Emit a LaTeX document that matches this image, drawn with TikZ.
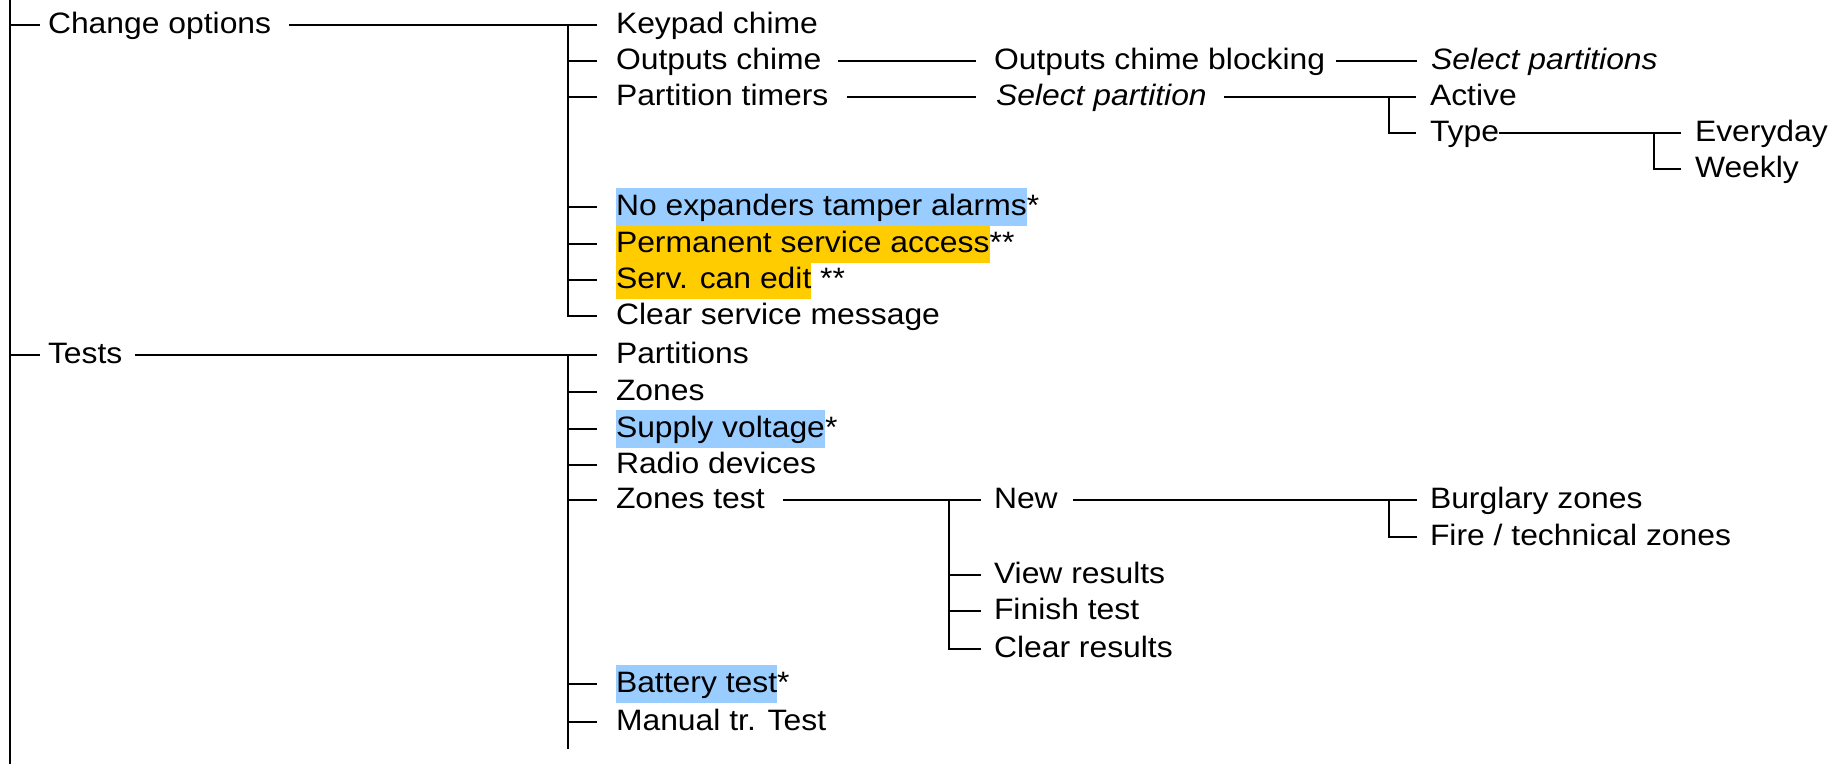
\documentclass[tikz,border=0pt]{standalone}
\usepackage{fontspec}
\setmainfont{Liberation Sans}[FakeStretch=1.08]
\definecolor{hlblue}{HTML}{99CCFF}
\definecolor{hlgold}{HTML}{FFCC00}
\setlength{\fboxsep}{0pt}
\newcommand{\hlstrut}{\rule[-9.7pt]{0pt}{37.1pt}}
\newcommand{\hlb}[1]{\colorbox{hlblue}{\hlstrut#1}}
\newcommand{\hlg}[1]{\colorbox{hlgold}{\hlstrut#1}}
\begin{document}
\begin{tikzpicture}[x=1pt,y=-1pt,
  item/.style={anchor=west, inner sep=0pt, outer sep=0pt, text height=27.4pt, text depth=9.7pt,
    font=\fontsize{29.5pt}{36pt}\selectfont},
  link/.style={line width=1.3pt, line cap=butt}]
\useasboundingbox (0,0) rectangle (1838,764);
% nodes
\node[item] (co) at (48,25) {Change options};
\node[item] (te) at (48,355) {Tests};
\node[item] (kc) at (616,25) {Keypad chime};
\node[item] (oc) at (616,61) {Outputs chime};
\node[item] (pt) at (616,97) {Partition timers};
\node[item] (ne) at (616,207) {\hlb{No expanders tamper alarms}*};
\node[item] (ps) at (616,244) {\hlg{Permanent service access}**};
\node[item] (se) at (616,280) {\hlg{Serv. can edit} **};
\node[item] (cs) at (616,316) {Clear service message};
\node[item] (pa) at (616,355) {Partitions};
\node[item] (zo) at (616,392) {Zones};
\node[item] (sv) at (616,429) {\hlb{Supply voltage}*};
\node[item] (rd) at (616,465) {Radio devices};
\node[item] (zt) at (616,500) {Zones test};
\node[item] (bt) at (616,684) {\hlb{Battery test}*};
\node[item] (mt) at (616,722) {Manual tr. Test};
\node[item] (ocb) at (994,61) {Outputs chime blocking};
\node[item] (sps) at (1431,61) {\itshape Select partitions};
\node[item] (sp) at (996,97) {\itshape Select partition};
\node[item] (ac) at (1430,97) {Active};
\node[item] (ty) at (1430,133) {Type};
\node[item] (ev) at (1695,133) {Everyday};
\node[item] (we) at (1695,169) {Weekly};
\node[item] (nw) at (994,500) {New};
\node[item] (vr) at (994,575) {View results};
\node[item] (ft) at (994,611) {Finish test};
\node[item] (cr) at (994,649) {Clear results};
\node[item] (bz) at (1430,500) {Burglary zones};
\node[item] (fz) at (1430,537) {Fire / technical zones};
% bar coordinates
\coordinate (rt) at (10,0);
\coordinate (rb) at (10,764);
\coordinate (b1) at (568,0);
\coordinate (b1end) at (568,749);
\coordinate (b3) at (1389,0);
\coordinate (b4) at (1654,0);
\coordinate (b5) at (949,0);
% root
\draw[link] (rt) -- (rb);
\draw[link] (rt |- co.west) -- ([xshift=-8.5pt]co.west);
\draw[link] (rt |- te.west) -- ([xshift=-8.5pt]te.west);
% level 2, first group
\draw[link] ([xshift=18pt]co.east) -- (b1 |- kc.west);
\draw[link] (b1 |- kc.west) -- (b1 |- cs.west) -- ([xshift=-19pt]cs.west);
\foreach \n in {kc,oc,pt,ne,ps,se}
  \draw[link] (b1 |- \n.west) -- ([xshift=-19pt]\n.west);
% level 2, second group
\draw[link] ([xshift=13pt]te.east) -- (b1 |- pa.west);
\draw[link] (b1 |- pa.west) -- (b1end);
\foreach \n in {pa,zo,sv,rd,zt,bt,mt}
  \draw[link] (b1 |- \n.west) -- ([xshift=-19pt]\n.west);
% outputs chime
\draw[link] ([xshift=17pt]oc.east) -- ([xshift=-18pt]ocb.west);
\draw[link] ([xshift=11pt]ocb.east) -- ([xshift=-14pt]sps.west);
% partition timers
\draw[link] ([xshift=19pt]pt.east) -- ([xshift=-20pt]sp.west);
\draw[link] ([xshift=17pt]sp.east) -- (b3 |- ac.west);
\draw[link] (b3 |- ac.west) -- ([xshift=-14pt]ac.west);
\draw[link] (b3 |- ac.west) -- (b3 |- ty.west) -- ([xshift=-14pt]ty.west);
% type
\draw[link] (ty.east) -- (b4 |- ev.west);
\draw[link] (b4 |- ev.west) -- ([xshift=-14pt]ev.west);
\draw[link] (b4 |- ev.west) -- (b4 |- we.west) -- ([xshift=-14pt]we.west);
% zones test
\draw[link] ([xshift=18pt]zt.east) -- (b5 |- nw.west);
\draw[link] (b5 |- nw.west) -- (b5 |- cr.west) -- ([xshift=-13pt]cr.west);
\foreach \n in {nw,vr,ft}
  \draw[link] (b5 |- \n.west) -- ([xshift=-13pt]\n.west);
% new
\draw[link] ([xshift=15pt]nw.east) -- (b3 |- bz.west);
\draw[link] (b3 |- bz.west) -- ([xshift=-13pt]bz.west);
\draw[link] (b3 |- bz.west) -- (b3 |- fz.west) -- ([xshift=-13pt]fz.west);
\end{tikzpicture}
\end{document}
